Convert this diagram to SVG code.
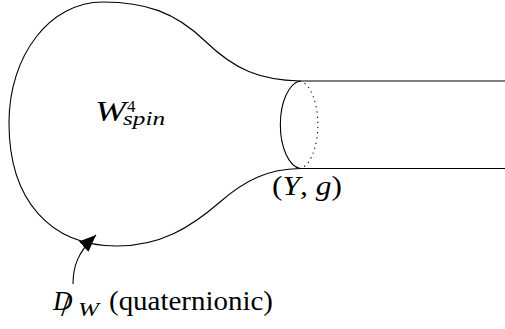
<svg xmlns="http://www.w3.org/2000/svg" width="505" height="329" viewBox="0 0 505 329">
<style>
.ln{fill:none;stroke:#000;stroke-width:1.1}
text{font-family:'Liberation Serif','DejaVu Serif',serif;fill:#000}
.it{font-style:italic}
</style>
<defs>
<marker id="ah" markerUnits="userSpaceOnUse" markerWidth="19" markerHeight="15" refX="17" refY="7" orient="auto">
<path d="M0,0 L17,7 L0,14 Z" fill="#000"/>
</marker>
</defs>
<g id="manifold">
<path class="ln" d="M505,81 L300,81 C260,80 235,70 205,41 C175,12 145,2 103,2 C50,2 9,55 9,123 C9,200 50,246 117,246 C160,246 190,228 220,202 C245,180 268,169 300,168.5 L505,168.5"/>
</g>
<g id="boundary">
<path class="ln" d="M300,81 A22,44 0 0 0 300,168.5"/>
<path class="ln" d="M300,81 A20,44 0 0 1 300,168.5" stroke-dasharray="1.2 4"/>
</g>
<g id="connectors">
<path class="ln" d="M73,284 C73,266 78,252 96,235" marker-end="url(#ah)"/>
</g>
<g id="label-W">
<text class="it" x="95" y="121" font-size="30" textLength="31" lengthAdjust="spacingAndGlyphs">W</text>
<text x="127" y="112" font-size="17">4</text>
<text class="it" x="123" y="125" font-size="19" textLength="42" lengthAdjust="spacingAndGlyphs">spin</text>
</g>
<g id="label-Y">
<text x="272" y="195" font-size="28" textLength="70" lengthAdjust="spacingAndGlyphs">(<tspan class="it">Y</tspan>, <tspan class="it">g</tspan>)</text>
</g>
<g id="label-D">
<text class="it" x="53" y="310" font-size="27">D</text>
<text x="61" y="316" font-size="32">/</text>
<text class="it" x="78" y="316" font-size="19" textLength="21" lengthAdjust="spacingAndGlyphs">W</text>
<text x="109" y="310" font-size="27" textLength="164" lengthAdjust="spacingAndGlyphs">(quaternionic)</text>
</g>
</svg>
